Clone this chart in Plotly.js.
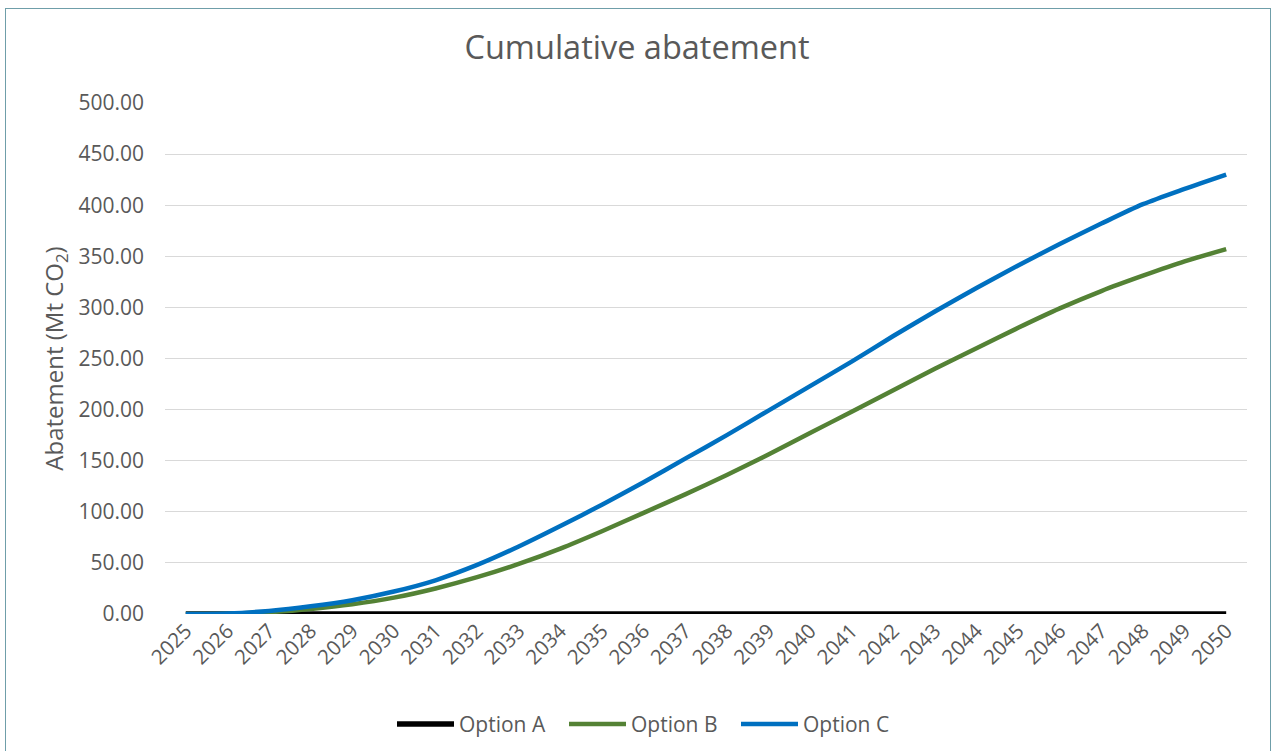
<!DOCTYPE html>
<html>
<head>
<meta charset="utf-8">
<script src="https://cdn.plot.ly/plotly-3.0.1.min.js"></script>
<style>
  html, body { margin: 0; padding: 0; background: #ffffff; }
  #chart { width: 1274px; height: 751px; }
  #frame { position: absolute; left: 5px; top: 8px; width: 1264px; height: 760px;
           border: 1.5px solid #6f9ea9; pointer-events: none; }
</style>
</head>
<body>
<div id="chart"></div>
<div id="frame"></div>
<script>
const years = ['2025','2026','2027','2028','2029','2030','2031','2032','2033','2034','2035','2036','2037',
               '2038','2039','2040','2041','2042','2043','2044','2045','2046','2047','2048','2049','2050'];
const optionA = [0,0,0,0,0,0,0,0,0,0,0,0,0,0,0,0,0,0,0,0,0,0,0,0,0,0];
const optionB = [0,0.3,1.8,5,9.5,16,25,36,49,64,81,99,117,136,156,177,198,219,240,260,280,299,316,331,345,357];
const optionC = [0,0.5,3,7.5,13.5,22,33,48,66,86,107,129,152,175,199,223,247,272,296,319,341,362,382,401,416,430];
const yTicks = [0,50,100,150,200,250,300,350,400,450,500];
const yTickText = yTicks.map(v => v.toFixed(2));

const FONT = 'Open Sans, Noto Sans, sans-serif';
const GREY = '#595959';

const mk = (name, y, color, w) => ({
  type: 'scatter', mode: 'lines', name: name, x: years, y: y,
  line: {color: color, width: w, shape: 'spline', smoothing: 0.8}
});

const data = [
  mk('Option A', optionA, '#000000', 5.5),
  mk('Option B', optionB, '#548235', 4.5),
  mk('Option C', optionC, '#0070C0', 4.5)
];

const layout = {
  width: 1274, height: 751,
  margin: {l: 165, r: 27, t: 102.7, b: 137.3, autoexpand: false},
  paper_bgcolor: '#ffffff', plot_bgcolor: '#ffffff',
  font: {family: FONT, color: GREY, size: 21},
  title: {text: 'Cumulative abatement', font: {family: FONT, size: 32.5, color: GREY},
          x: 0.5, xref: 'container', xanchor: 'center', y: 1 - 48/751, yanchor: 'middle'},
  xaxis: {type: 'category', range: [-0.5, 25.5], tickangle: -45, showgrid: false,
          zeroline: false, showline: false, ticks: '', tickfont: {size: 20.5, color: GREY},
          automargin: false, fixedrange: true},
  yaxis: {range: [0, 500], tickvals: yTicks, ticktext: yTickText, showgrid: true,
          gridcolor: '#d9d9d9', gridwidth: 1, zeroline: false, showline: false, ticks: '',
          ticklabelstandoff: 20, tickfont: {size: 21, color: GREY},
          title: {text: 'Abatement (Mt CO<sub>2</sub>)', font: {size: 24, color: GREY}, standoff: 8},
          automargin: false, fixedrange: true},
  showlegend: true,
  legend: {orientation: 'h', x: (650 - 165) / 1082, xanchor: 'center', xref: 'paper',
           y: (613.7 - 724) / 511, yanchor: 'middle', itemwidth: 57,
           entrywidth: 100, entrywidthmode: 'pixels',
           font: {size: 21, color: GREY}, traceorder: 'normal'},
  hovermode: false
};

Plotly.newPlot('chart', data, layout, {displayModeBar: false, staticPlot: true});
</script>
</body>
</html>
